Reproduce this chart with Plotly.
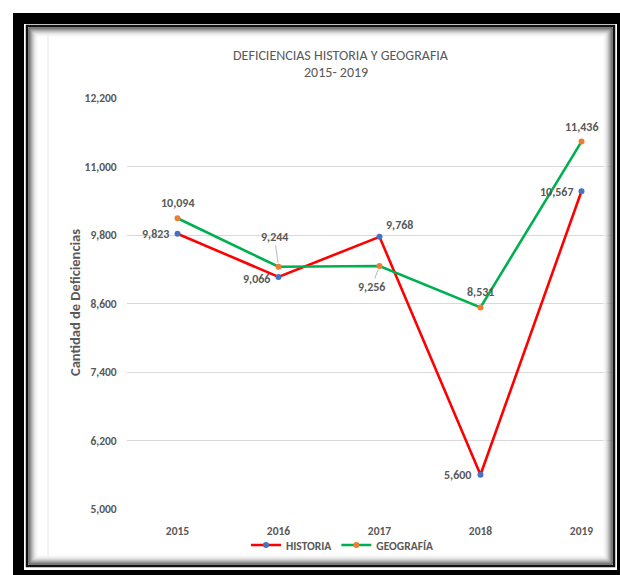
import plotly.graph_objects as go

# ---- data ----
years = ["2015", "2016", "2017", "2018", "2019"]
historia = [9823, 9066, 9768, 5600, 10567]
geografia = [10094, 9244, 9256, 8531, 11436]
y_ticks = [5000, 6200, 7400, 8600, 9800, 11000, 12200]

title_line1 = "DEFICIENCIAS HISTORIA Y GEOGRAFIA"
title_line2 = "2015- 2019"
y_title = "Cantidad de Deficiencias"

# ---- style ----
W, H = 620, 575
FONT = "Carlito, Lato, sans-serif"
GRAY = "#595959"
RED = "#FF0000"
GREEN = "#00B050"
BLUE = "#4472C4"
ORANGE = "#ED7D31"


def px(x):
    return x / W


def py(y):
    return 1 - y / H


fig = go.Figure()
fig.add_trace(go.Scatter(
    x=years, y=historia, name="HISTORIA", mode="lines+markers",
    line=dict(color=RED, width=2.6),
    marker=dict(color=BLUE, size=6),
))
fig.add_trace(go.Scatter(
    x=years, y=geografia, name="GEOGRAFÍA", mode="lines+markers",
    line=dict(color=GREEN, width=2.6),
    marker=dict(color=ORANGE, size=6),
))

# label offsets (pixels: dx right, dy down) -- styling only
hist_off = [(-22, 0), (-22, 2), (20, -12), (-23, 0), (-25, 1)]
geo_off = [(0, -15), None, None, (0, -15), (0, -15)]
geo_leader = {1: (-4, -30), 2: (-8, 21)}

label_font = dict(family=FONT, size=12, color=GRAY, weight="bold")
annotations = []
for i, v in enumerate(historia):
    dx, dy = hist_off[i]
    annotations.append(dict(x=i, y=v, xref="x", yref="y", text=f"{v:,}",
                            showarrow=False, xshift=dx, yshift=-dy, font=label_font))
for i, v in enumerate(geografia):
    if i in geo_leader:
        ax, ay = geo_leader[i]
        annotations.append(dict(x=i, y=v, xref="x", yref="y", text=f"{v:,}",
                                showarrow=True, arrowhead=0, arrowwidth=0.8,
                                arrowcolor="#A6A6A6", standoff=4, ax=ax, ay=ay,
                                font=label_font))
    else:
        dx, dy = geo_off[i]
        annotations.append(dict(x=i, y=v, xref="x", yref="y", text=f"{v:,}",
                                showarrow=False, xshift=dx, yshift=-dy, font=label_font))

# titles
annotations.append(dict(x=px(341), y=py(55), xref="paper", yref="paper",
                        xanchor="center", yanchor="middle",
                        text=title_line1, showarrow=False,
                        font=dict(family=FONT, size=14, color=GRAY)))
annotations.append(dict(x=px(336), y=py(73), xref="paper", yref="paper",
                        xanchor="center", yanchor="middle",
                        text=title_line2, showarrow=False,
                        font=dict(family=FONT, size=14, color=GRAY)))
annotations.append(dict(x=px(75), y=py(303), xref="paper", yref="paper",
                        xanchor="center", yanchor="middle",
                        text=y_title, textangle=-90, showarrow=False,
                        font=dict(family=FONT, size=14.5, color=GRAY, weight="bold")))

# frame shapes
shapes = []


def rect(x0, y0, x1, y1, **kw):
    d = dict(type="rect", xref="paper", yref="paper",
             x0=px(x0), x1=px(x1), y0=py(y1), y1=py(y0), layer="above")
    d.update(kw)
    shapes.append(d)


# faint chart-area edge
shapes.append(dict(type="line", xref="paper", yref="paper", x0=px(48), x1=px(48),
                   y0=py(556), y1=py(34), line=dict(color="#E6E6E6", width=1),
                   layer="below"))
# inner shadow gradient
grad = ["#3a3a3a", "#5a5a5a", "#7a7a7a", "#989898", "#b4b4b4",
        "#cccccc", "#dfdfdf", "#ececec", "#f5f5f5"]
for k, c in enumerate(grad):
    o = 2 + k
    rect(27 + o, 26 + o, 614 - o, 566 - o, line=dict(color=c, width=1),
         fillcolor="rgba(0,0,0,0)")
# inner dark line
rect(27, 26, 614, 566, line=dict(color="#111111", width=2.5),
     fillcolor="rgba(0,0,0,0)")
# outer black bands
blk = dict(line=dict(width=0), fillcolor="black")
rect(13, 13, 620, 24, **blk)
rect(13, 13, 24, 575, **blk)
rect(13, 570, 620, 575, **blk)
rect(617, 13, 620, 575, **blk)

tick_font = dict(family=FONT, size=11.5, color=GRAY, weight="bold")
fig.update_layout(
    width=W, height=H,
    margin=dict(l=0, r=0, t=0, b=0, autoexpand=False),
    paper_bgcolor="white", plot_bgcolor="white",
    showlegend=True,
    legend=dict(orientation="h", x=px(342), xanchor="center", y=py(545),
                yanchor="middle", font=dict(family=FONT, size=11.5, color=GRAY,
                                            weight="bold"),
                itemwidth=30, bgcolor="rgba(0,0,0,0)"),
    xaxis=dict(domain=[px(127), px(612)], type="category",
               range=[-0.5, 4.302], showgrid=False, zeroline=False,
               showline=False, ticks="outside", ticklen=11,
               tickcolor="rgba(0,0,0,0)", automargin=False,
               tickfont=tick_font),
    yaxis=dict(domain=[py(509), py(98)], range=[5000, 12200],
               tickvals=y_ticks, tickformat=",", showgrid=True,
               gridcolor="#D9D9D9", gridwidth=1, zeroline=False, showline=False,
               ticks="outside", ticklen=7, tickcolor="rgba(0,0,0,0)",
               automargin=False, tickfont=tick_font),
    annotations=annotations,
    shapes=shapes,
)

fig.write_html("out.html",
               config={"displayModeBar": False},
               post_script="document.body.style.margin='0';"
                           "document.body.style.overflow='hidden';")
